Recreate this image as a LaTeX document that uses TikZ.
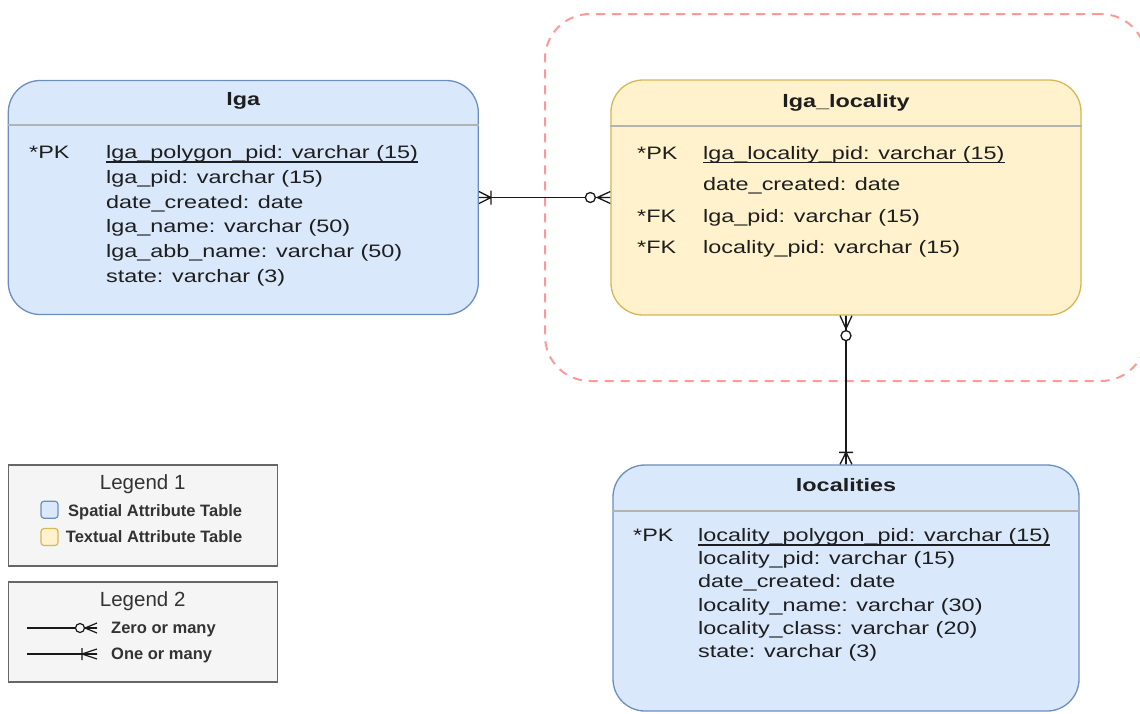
\documentclass[tikz,border=0pt]{standalone}
\usepackage{fontspec}
\setmainfont{Liberation Sans}
\newfontfamily\tabfont[FakeStretch=1.3]{Liberation Sans}
\usetikzlibrary{calc}
\definecolor{bluefill}{HTML}{DAE8FC}
\definecolor{bluedraw}{HTML}{6C8EBF}
\definecolor{yelfill}{HTML}{FFF2CC}
\definecolor{yeldraw}{HTML}{D6B656}
\definecolor{sepgray}{HTML}{B3B3B3}
\definecolor{dashred}{HTML}{FF9999}
\definecolor{legfill}{HTML}{F5F5F5}
\definecolor{legdraw}{HTML}{666666}
\definecolor{txt}{HTML}{1E1E1E}
\definecolor{legtxt}{HTML}{333333}
\begin{document}
\begin{tikzpicture}[x=1pt,y=-1pt,
  tbl/.style={draw, line width=1.3pt, rounded corners=32pt, inner sep=0pt},
  bluetbl/.style={tbl, fill=bluefill, draw=bluedraw},
  yeltbl/.style={tbl, fill=yelfill, draw=yeldraw},
  sepline/.style={draw=sepgray, line width=1.3pt},
  field/.style={anchor=base west, inner sep=0pt, text=txt, font=\tabfont\fontsize{18}{18}\selectfont},
  ttl/.style={anchor=base, inner sep=0pt, text=txt, font=\tabfont\bfseries\fontsize{18}{18}\selectfont},
  uline/.style={draw=txt, line width=1.1pt},
  rel/.style={draw=black!90, line width=1.3pt},
  legbox/.style={draw=legdraw, fill=legfill, line width=1.2pt, inner sep=0pt},
  legttl/.style={anchor=base, inner sep=0pt, text=legtxt, font=\fontsize{20.5}{20.5}\selectfont},
  legitem/.style={anchor=base west, inner sep=0pt, text=legtxt, font=\bfseries\fontsize{16.5}{16.5}\selectfont},
  swatch/.style={line width=1.2pt, rounded corners=3pt, inner sep=0pt, minimum width=17pt, minimum height=17pt},
  crowzero/.pic={\draw[rel] (0,-6) -- (13,0) -- (0,6) (0,0) -- (13,0);
                 \draw[rel, fill=white] (20,0) circle (5);},
  crowone/.pic={\draw[rel] (0,-6) -- (12,0) -- (0,6) (0,0) -- (12,0) (12,-7) -- (12,7);},
  smallzero/.pic={\draw[rel, line width=1.2pt] (0,-5) -- (12,0) -- (0,5) (0,0) -- (12,0);
                 \draw[rel, line width=1.2pt, fill=legfill] (17,0) circle (4.5);},
  smallone/.pic={\draw[rel, line width=1.2pt] (0,-5) -- (15,0) -- (0,5) (0,0) -- (15,0) (15,-6) -- (15,6);}
]
\useasboundingbox (0,0) rectangle (1140,713);

% group region
\node[draw=dashred, line width=2pt, dash pattern=on 9pt off 7pt, rounded corners=45pt,
      minimum width=601pt, minimum height=367pt, inner sep=0pt] (grp) at (845.5,197.5) {};

% lga table
\node[bluetbl, minimum width=470pt, minimum height=234pt] (lga) at (243.3,197.5) {};
\draw[sepline] (lga.west |- 0,125) -- (lga.east |- 0,125);
\node[ttl] (lgat) at (243.3,105.5) {lga};
\node[field] (lgapk) at (29,158.5) {*PK};
\node[field] (lgaf1) at (106,158.5) {lga\_polygon\_pid: varchar (15)};
\draw[uline] ($(lgaf1.base west)+(0,3.5)$) -- ($(lgaf1.base east)+(0,3.5)$);
\node[field] (lgaf2) at (106,183.3) {lga\_pid: varchar (15)};
\node[field] (lgaf3) at (106,208.1) {date\_created: date};
\node[field] (lgaf4) at (106,232.9) {lga\_name: varchar (50)};
\node[field] (lgaf5) at (106,257.7) {lga\_abb\_name: varchar (50)};
\node[field] (lgaf6) at (106,282.5) {state: varchar (3)};

% lga_locality table
\node[yeltbl, minimum width=470pt, minimum height=235pt] (lgl) at (846,197.5) {};
\draw[sepline] (lgl.west |- 0,126) -- (lgl.east |- 0,126);
\node[ttl] (lglt) at (846,107) {lga\_locality};
\node[field] (lglpk) at (637,159) {*PK};
\node[field] (lglf1) at (703,159) {lga\_locality\_pid: varchar (15)};
\draw[uline] ($(lglf1.base west)+(0,3.5)$) -- ($(lglf1.base east)+(0,3.5)$);
\node[field] (lglf2) at (703,190.5) {date\_created: date};
\node[field] (lglfk1) at (637,222) {*FK};
\node[field] (lglf3) at (703,222) {lga\_pid: varchar (15)};
\node[field] (lglfk2) at (637,253.5) {*FK};
\node[field] (lglf4) at (703,253.5) {locality\_pid: varchar (15)};

% localities table
\node[bluetbl, minimum width=466pt, minimum height=246pt] (loc) at (846,588) {};
\draw[sepline] (loc.west |- 0,511) -- (loc.east |- 0,511);
\node[ttl] (loct) at (846,491.5) {localities};
\node[field] (locpk) at (633,541.5) {*PK};
\node[field] (locf1) at (698,541.5) {locality\_polygon\_pid: varchar (15)};
\draw[uline] ($(locf1.base west)+(0,3.5)$) -- ($(locf1.base east)+(0,3.5)$);
\node[field] (locf2) at (698,564.7) {locality\_pid: varchar (15)};
\node[field] (locf3) at (698,587.9) {date\_created: date};
\node[field] (locf4) at (698,611.1) {locality\_name: varchar (30)};
\node[field] (locf5) at (698,634.3) {locality\_class: varchar (20)};
\node[field] (locf6) at (698,657.5) {state: varchar (3)};

% relationships
\draw[rel] (lga.east) -- (lgl.west);
\pic at (lga.east) {crowone};
\pic[rotate=180] at (lgl.west) {crowzero};
\draw[rel] (lgl.south) -- (loc.north);
\pic[rotate=-90] at (lgl.south) {crowzero};
\pic[rotate=90] at (loc.north) {crowone};

% legend 1
\node[legbox, minimum width=269pt, minimum height=101pt] (leg1) at (142.7,515.5) {};
\node[legttl] (leg1t) at (142.7,489.3) {Legend 1};
\node[swatch, fill=bluefill, draw=bluedraw] (sw1) at (49.5,509.7) {};
\node[swatch, fill=yelfill, draw=yeldraw] (sw2) at (49.5,537) {};
\node[legitem] (leg1a) at (68,516.7) {Spatial Attribute Table};
\node[legitem] (leg1b) at (65.7,542.7) {Textual Attribute Table};

% legend 2
\node[legbox, minimum width=269pt, minimum height=100pt] (leg2) at (142.7,632) {};
\node[legttl] (leg2t) at (142.7,606) {Legend 2};
\coordinate (z0) at (27,628);
\coordinate (z1) at (97,628);
\draw[rel, line width=1.2pt] (z0) -- (z1);
\pic[rotate=180] at (z1) {smallzero};
\node[legitem] (leg2a) at (111,633.3) {Zero or many};
\coordinate (o0) at (27,654);
\coordinate (o1) at (97,654);
\draw[rel, line width=1.2pt] (o0) -- (o1);
\pic[rotate=180] at (o1) {smallone};
\node[legitem] (leg2b) at (111,659.3) {One or many};
\end{tikzpicture}
\end{document}
